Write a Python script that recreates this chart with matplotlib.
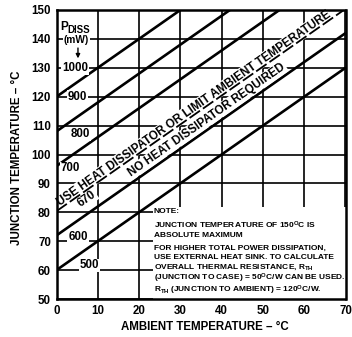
import matplotlib
matplotlib.use("Agg")
import matplotlib.pyplot as plt
from matplotlib.patches import Rectangle

# datos
ambiente = [0, 70]                       # temperatura ambiente (extremos de cada recta)
potencias = ["500", "600", "670", "700", "800", "900", "1000"]   # P_DISS en mW
tj_inicio = [60, 72, 80.4, 84, 96, 108, 120]      # Tj a 0 °C ambiente
tj_fin = [130, 142, 150.4, 154, 166, 178, 190]    # Tj a 70 °C ambiente
ticks_x = [0, 10, 20, 30, 40, 50, 60, 70]
ticks_y = [50, 60, 70, 80, 90, 100, 110, 120, 130, 140, 150]

nota = [
    "NOTE:",
    "JUNCTION TEMPERATURE OF 150$^{\\rm O}$C IS",
    "ABSOLUTE MAXIMUM",
    "FOR HIGHER TOTAL POWER DISSIPATION,",
    "USE EXTERNAL HEAT SINK. TO CALCULATE",
    "OVERALL THERMAL RESISTANCE, R$_{\\rm TH}$",
    "(JUNCTION TO CASE) = 50$^{\\rm O}$C/W CAN BE USED.",
    "R$_{\\rm TH}$ (JUNCTION TO AMBIENT) = 120$^{\\rm O}$C/W.",
]
nota_y = [80.4, 75.4, 72.0, 67.7, 64.4, 60.9, 57.2, 52.9]

plt.rcParams['font.family'] = ['Liberation Sans', 'DejaVu Sans']
plt.rcParams['font.weight'] = 'bold'
plt.rcParams['mathtext.fontset'] = 'custom'
plt.rcParams['mathtext.rm'] = 'Liberation Sans:bold'
plt.rcParams['mathtext.bf'] = 'Liberation Sans:bold'
plt.rcParams['mathtext.default'] = 'rm'

fig = plt.figure(figsize=(3.52, 3.37), dpi=100)
ax = fig.add_axes([56.5 / 352, 1 - 299 / 337, 289 / 352, 289 / 337])
ax.set_xlim(0, 70)
ax.set_ylim(50, 150)
ax.set_xticks(ticks_x)
ax.set_yticks(ticks_y)
ax.tick_params(length=0, pad=4, labelsize=8.3)
for lab in ax.get_xticklabels() + ax.get_yticklabels():
    lab.set_fontweight('bold')
ax.grid(True, color='black', lw=1.2, zorder=1)
ax.set_axisbelow(True)
for s in ax.spines.values():
    s.set_linewidth(1.8)
    s.set_zorder(10)

# rectas de potencia
for p, a, b in zip(potencias, tj_inicio, tj_fin):
    if p == "670":
        ax.plot(ambiente, [a, b], color='black', lw=1.3, dashes=(7, 2), zorder=6)
    else:
        ax.plot(ambiente, [a, b], color='black', lw=1.9, zorder=2,
                solid_capstyle='butt')

caja = dict(facecolor='white', edgecolor='none', pad=0.6)
etiquetas = {"1000": (4.5, 129.9), "900": (5.1, 119.9), "800": (5.7, 107.1),
             "700": (3.4, 95.2), "600": (5.2, 71.6), "500": (7.9, 61.6)}
for p, (x, y) in etiquetas.items():
    ax.text(x, y, p, fontsize=8.3, ha='center', va='center', bbox=caja, zorder=4)
ax.text(7.4, 84.6, "670", fontsize=8.3, ha='center', va='center', rotation=45,
        rotation_mode='anchor', transform_rotates_text=True, bbox=caja, zorder=4)

# P_DISS (mW) con flecha
ax.text(1.0, 143.0, "P", fontsize=8.5, ha='left', va='baseline', bbox=caja, zorder=4)
ax.text(2.7, 141.9, "DISS", fontsize=7, ha='left', va='baseline', zorder=4)
ax.text(4.8, 139.7, "(mW)", fontsize=7.3, ha='center', va='center', bbox=caja, zorder=4)
ax.annotate("", xy=(5.2, 132.3), xytext=(5.2, 137.8),
            arrowprops=dict(arrowstyle='-|>', color='black', lw=1, mutation_scale=6),
            zorder=4)

# franja de texto
ax.text(0.8, 82.3, "USE HEAT DISSIPATOR OR LIMIT AMBIENT TEMPERATURE", fontsize=8.4,
        ha='left', va='baseline', rotation=45, rotation_mode='anchor',
        transform_rotates_text=True, bbox=caja, zorder=4)
ax.text(18.2, 92.5, "NO HEAT DISSIPATOR REQUIRED", fontsize=8.4,
        ha='left', va='baseline', rotation=45, rotation_mode='anchor',
        transform_rotates_text=True, bbox=caja, zorder=4)

# nota
ax.add_patch(Rectangle((23.3, 50), 46.7, 32, facecolor='white', edgecolor='none', zorder=3))
for t, y in zip(nota, nota_y):
    ax.text(23.5, y, t, fontsize=6.0, ha='left', va='center', zorder=4)

ax.set_xlabel("AMBIENT TEMPERATURE – °C", fontsize=8.3, fontweight='bold')
ax.set_ylabel("JUNCTION TEMPERATURE – °C", fontsize=8.3, fontweight='bold')
ax.xaxis.set_label_coords(0.514, -0.097)
ax.yaxis.set_label_coords(-0.137, 0.49)
ax.xaxis.label.set_va('center')
ax.yaxis.label.set_va('center')

fig.savefig("out.png", dpi=100)
